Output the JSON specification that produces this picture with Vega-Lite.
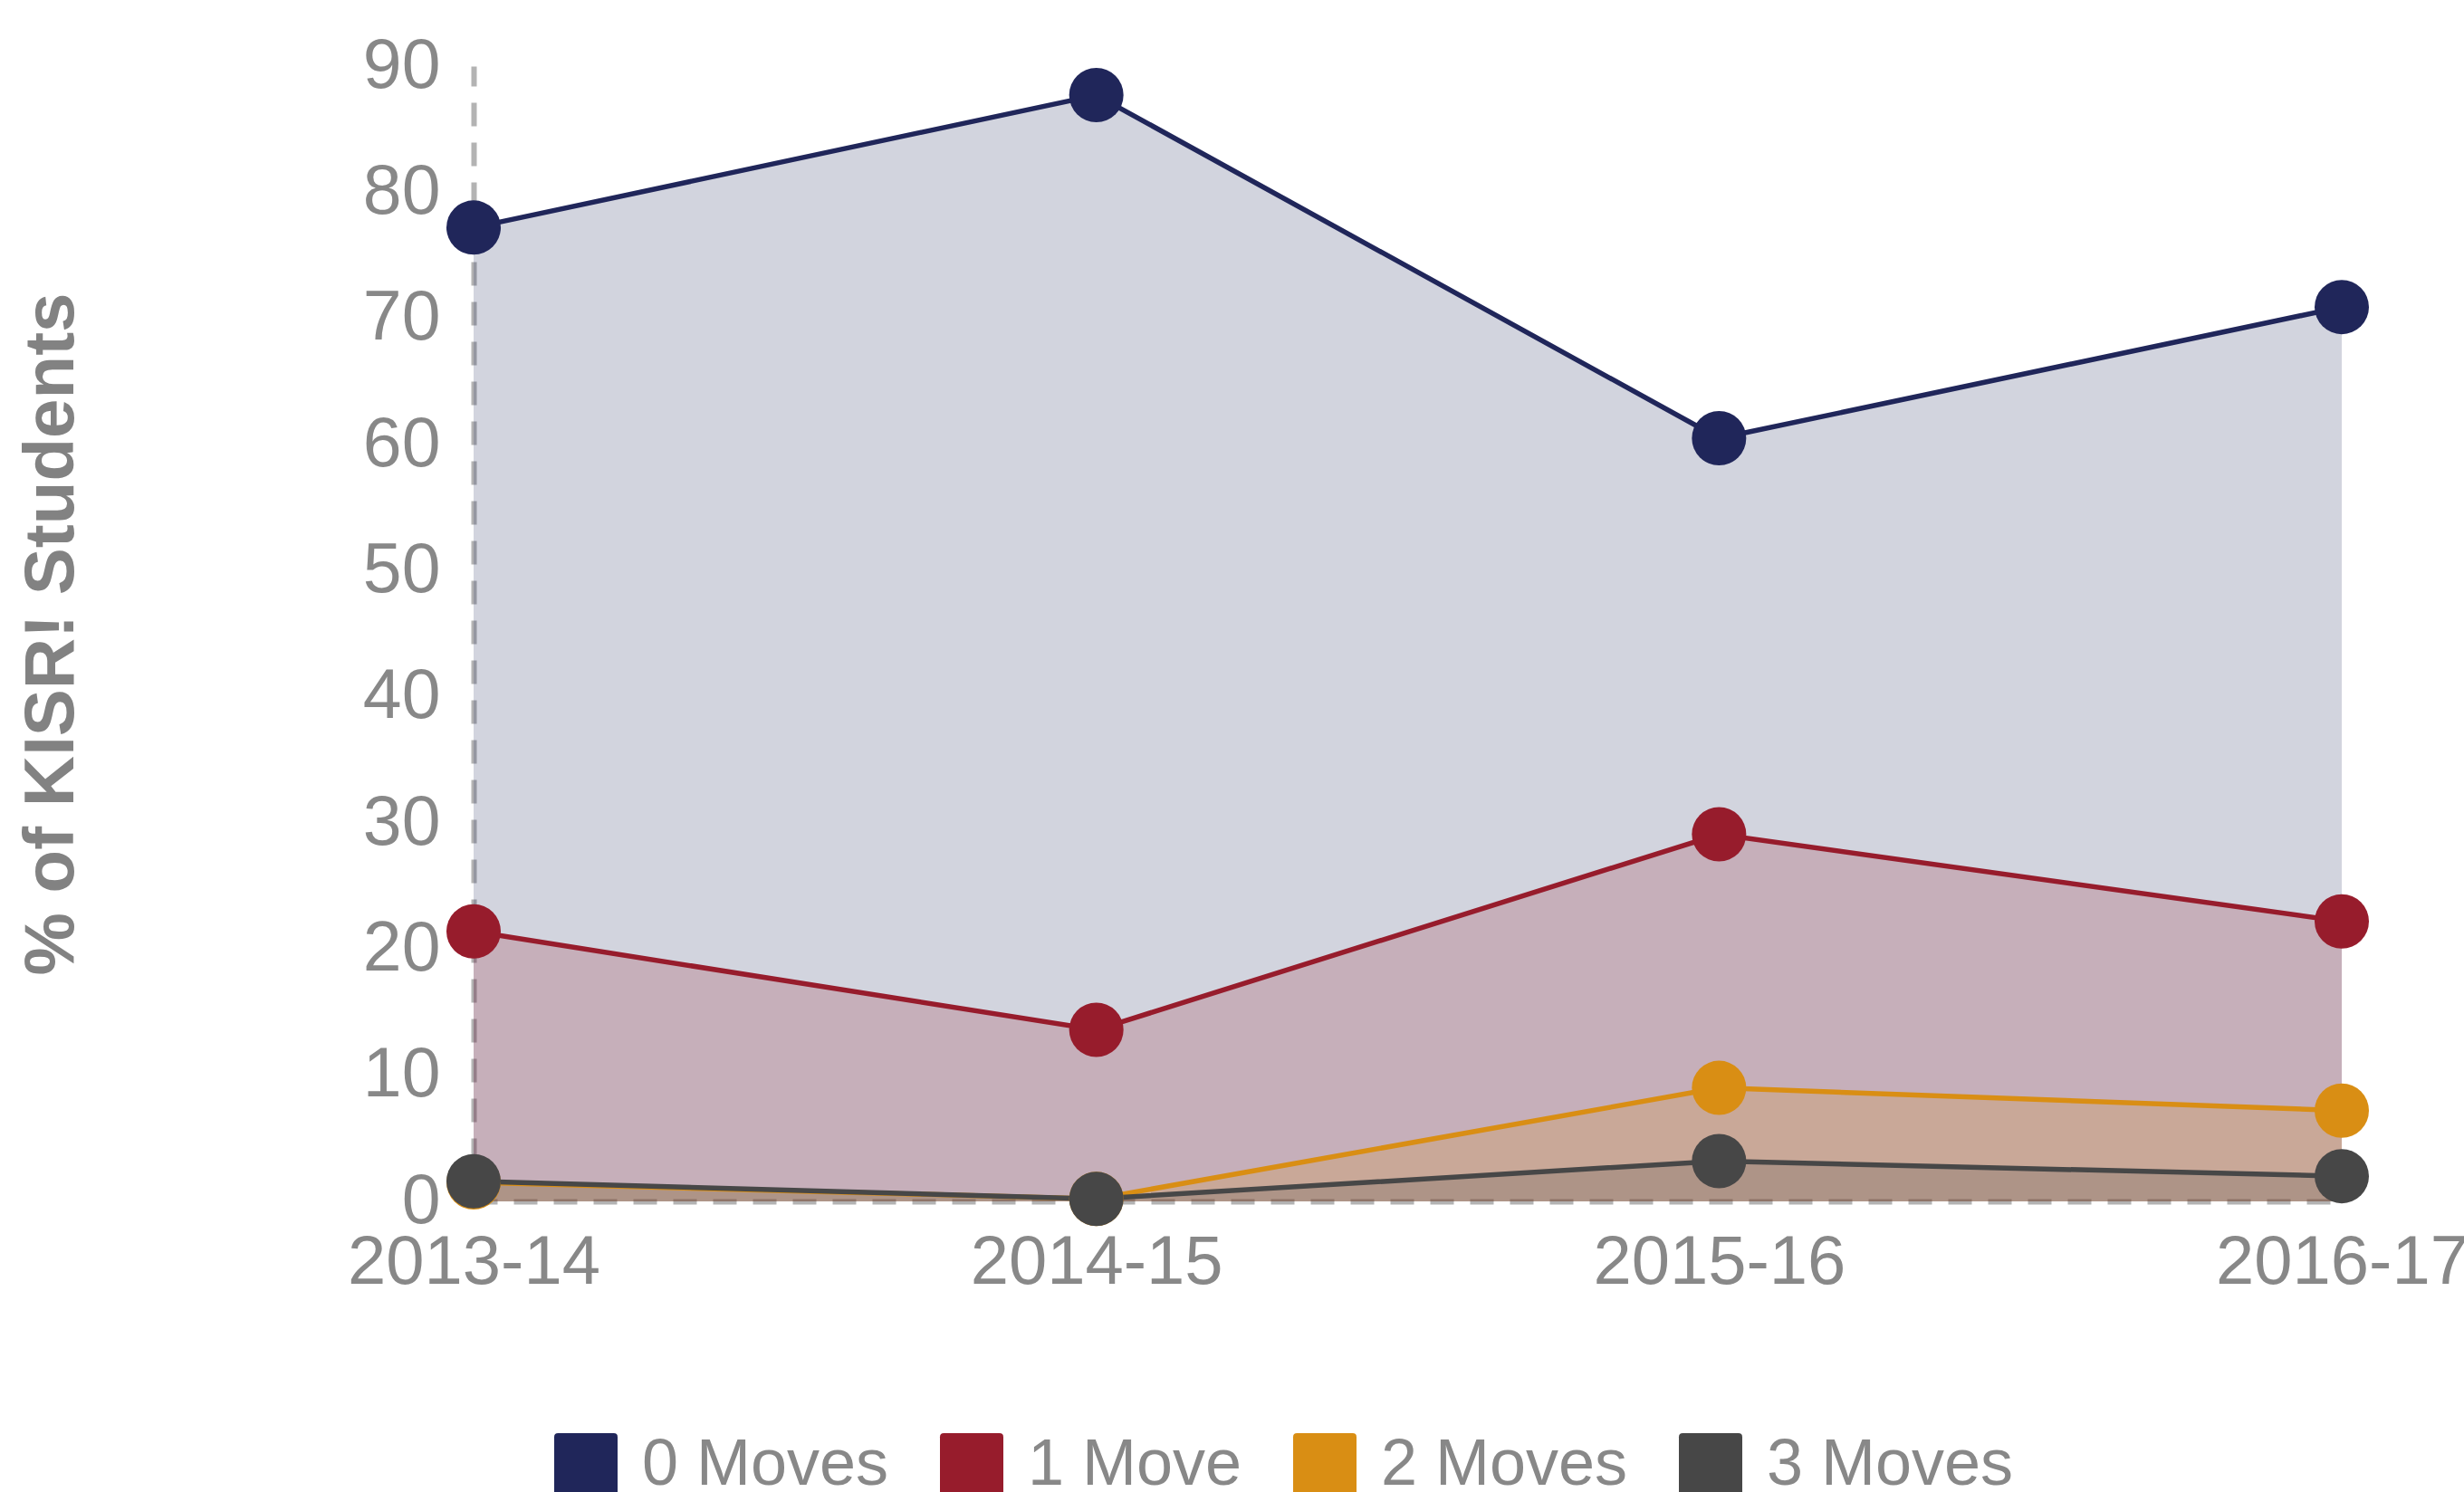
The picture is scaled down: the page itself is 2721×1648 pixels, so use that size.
{
  "$schema": "https://vega.github.io/schema/vega-lite/v6.json",
  "width": 2063,
  "height": 1254,
  "autosize": {"type": "none"},
  "padding": {"left": 523, "top": 73, "right": 135, "bottom": 321},
  "background": "white",
  "config": {
    "view": {"stroke": null},
    "font": "Liberation Sans",
    "axis": {
      "domainColor": "#a0a0a0",
      "domainOpacity": 0.8,
      "domainWidth": 6,
      "domainDash": [26, 18],
      "ticks": false,
      "grid": false,
      "labelColor": "#888888",
      "labelFont": "Liberation Sans",
      "labelFontSize": 77,
      "labelLimit": 0,
      "zindex": 1
    },
    "legend": {
      "padding": 0
    }
  },
  "data": {
    "values": [
      {"year": "2013-14", "series": "0 Moves", "value": 77.2},
      {"year": "2014-15", "series": "0 Moves", "value": 87.7},
      {"year": "2015-16", "series": "0 Moves", "value": 60.5},
      {"year": "2016-17", "series": "0 Moves", "value": 70.9},
      {"year": "2013-14", "series": "1 Move", "value": 21.4},
      {"year": "2014-15", "series": "1 Move", "value": 13.6},
      {"year": "2015-16", "series": "1 Move", "value": 29.1},
      {"year": "2016-17", "series": "1 Move", "value": 22.2},
      {"year": "2013-14", "series": "2 Moves", "value": 1.5},
      {"year": "2014-15", "series": "2 Moves", "value": 0.2},
      {"year": "2015-16", "series": "2 Moves", "value": 9.0},
      {"year": "2016-17", "series": "2 Moves", "value": 7.2},
      {"year": "2013-14", "series": "3 Moves", "value": 1.6},
      {"year": "2014-15", "series": "3 Moves", "value": 0.2},
      {"year": "2015-16", "series": "3 Moves", "value": 3.2},
      {"year": "2016-17", "series": "3 Moves", "value": 2.0}
    ]
  },
  "encoding": {
    "x": {
      "field": "year",
      "type": "ordinal",
      "scale": {"type": "point", "padding": 0},
      "axis": {"title": null, "labelAngle": 0, "labelPadding": 30, "labelFontSize": 76, "labelLimit": 0}
    },
    "y": {
      "field": "value",
      "type": "quantitative",
      "scale": {"domain": [0, 90], "nice": false, "zero": true},
      "axis": {
        "title": "% of KISR! Students",
        "titleColor": "#828282",
        "titleFont": "Liberation Sans",
        "titleFontSize": 78,
        "titleFontWeight": "bold",
        "titleAngle": -90,
        "titleAlign": "center",
        "titleBaseline": "middle",
        "titleX": -466,
        "titleY": 627,
        "values": [0, 10, 20, 30, 40, 50, 60, 70, 80, 90],
        "labelPadding": 37
      }
    },
    "color": {
      "field": "series",
      "type": "nominal",
      "scale": {
        "domain": ["0 Moves", "1 Move", "2 Moves", "3 Moves"],
        "range": ["#20265a", "#971c2c", "#d98e14", "#474747"]
      },
      "legend": {
        "title": null,
        "orient": "none",
        "direction": "horizontal",
        "legendX": 88,
        "legendY": 1509,
        "symbolType": "M-1,-0.88 Q-1,-1 -0.88,-1 L0.88,-1 Q1,-1 1,-0.88 L1,1 L-1,1 Z",
        "symbolSize": 4900,
        "symbolOpacity": 1,
        "symbolFillColor": null,
        "symbolStrokeWidth": 0,
        "labelFontSize": 72,
        "labelColor": "#888888",
        "labelFont": "Liberation Sans",
        "labelOffset": 26,
        "labelLimit": 0,
        "columnPadding": 55
      }
    }
  },
  "layer": [
    {
      "mark": {"type": "area", "opacity": 0.2},
      "encoding": {
        "y": {"field": "value", "type": "quantitative", "stack": null}
      }
    },
    {
      "mark": {"type": "line", "strokeWidth": 5.5}
    },
    {
      "mark": {"type": "point", "filled": true, "opacity": 1, "size": 3600, "shape": "circle"}
    }
  ]
}
